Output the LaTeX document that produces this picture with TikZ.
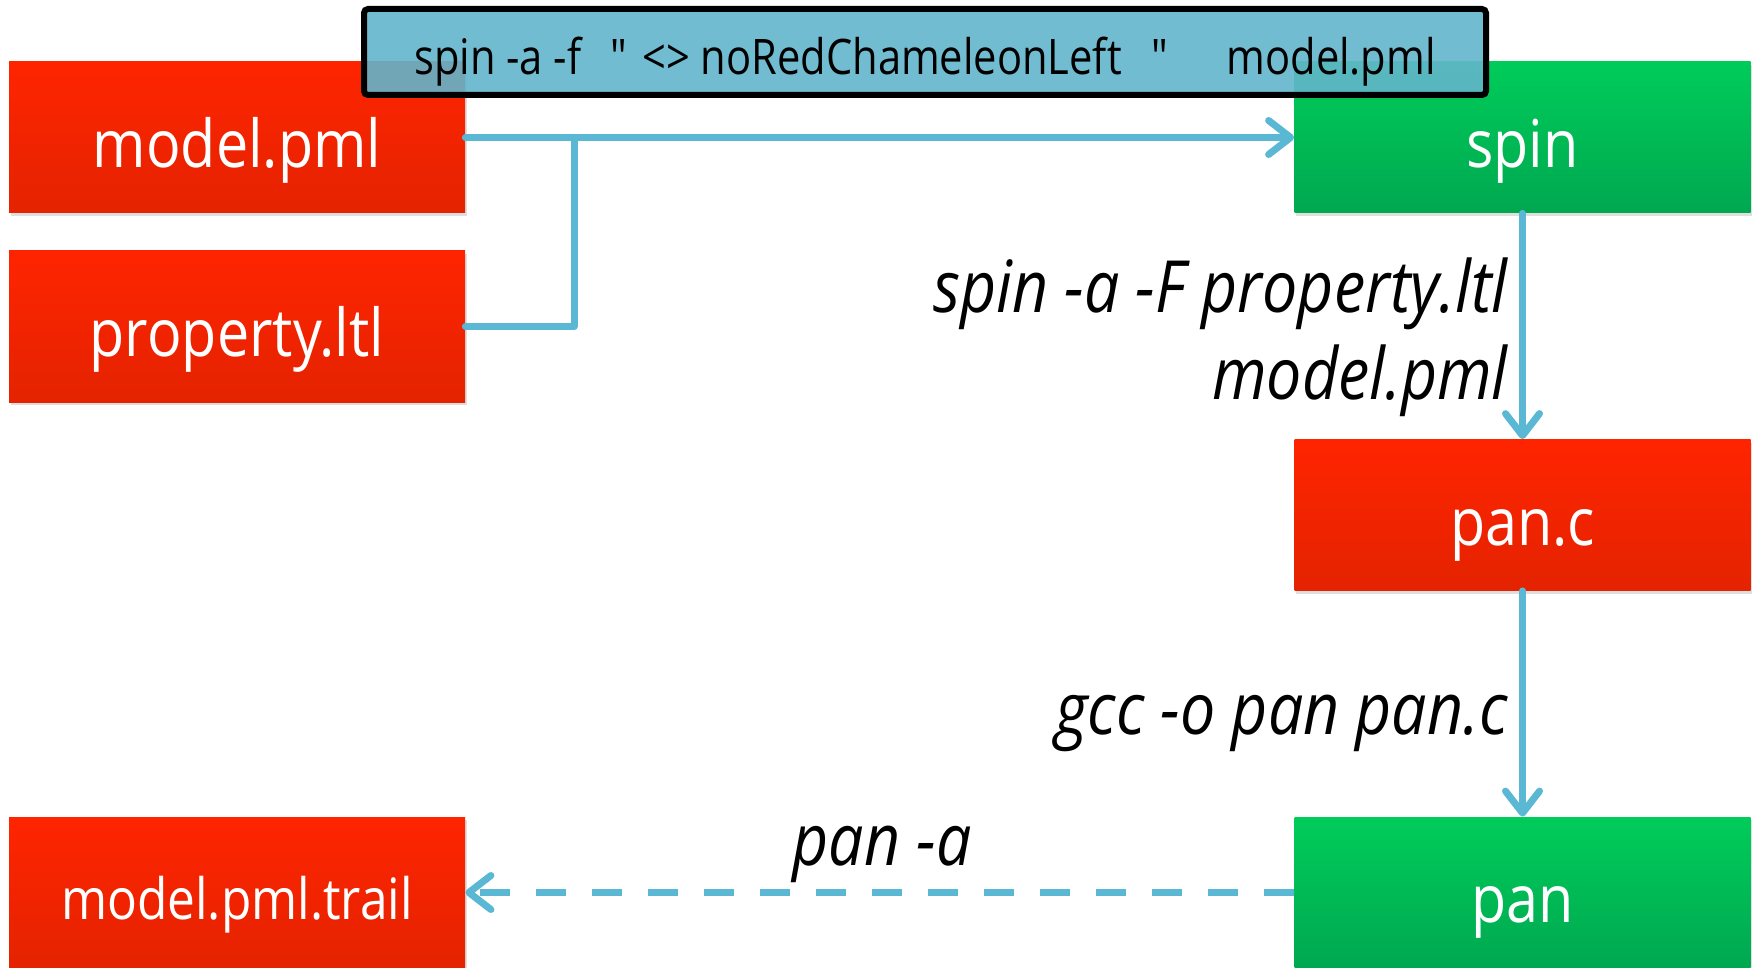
\documentclass[tikz,border=0pt]{standalone}
\usepackage{fontspec}
\setmainfont{Open Sans}[FakeStretch=0.87]
\newfontfamily\cmdfont{Open Sans}[FakeStretch=0.85,Ligatures=TeXOff]
\usetikzlibrary{arrows.meta,shadows}
\definecolor{linecol}{RGB}{91,184,212}
\definecolor{redtop}{RGB}{255,36,0}
\definecolor{redbot}{RGB}{228,35,0}
\definecolor{greentop}{RGB}{0,204,90}
\definecolor{greenbot}{RGB}{0,168,80}
\definecolor{cmdfill}{RGB}{98,181,203}
\tikzset{
  filebox/.style={minimum width=228pt, minimum height=75.5pt, inner sep=0pt,
    text height=30pt, text depth=0pt,
    text=white, font=\fontsize{33}{38}\selectfont, shading=axis,
    drop shadow={shadow xshift=0.8pt, shadow yshift=-1.5pt, opacity=0.25}},
  redbox/.style={filebox, top color=redtop, bottom color=redbot},
  greenbox/.style={filebox, top color=greentop, bottom color=greenbot},
  conn/.style={draw=linecol, line width=3.5pt, line cap=round, line join=round,
    -{Straight Barb[length=11pt,width=17pt,line cap=round,line join=round]}},
  plainconn/.style={draw=linecol, line width=3.5pt, line cap=round, line join=round},
  lbl/.style={font=\fontsize{36}{40}\selectfont\itshape, inner sep=0pt, anchor=base east},
}
\begin{document}
\begin{tikzpicture}[x=0.5pt,y=-0.5pt]
\useasboundingbox (0,0) rectangle (1755,968);
\node[redbox] (model) at (237,137.5) {model.pml};
\node[redbox] (prop) at (237,326.5) {property.ltl};
\node[greenbox] (spin) at (1522.5,137.5) {spin};
\node[redbox] (panc) at (1522.5,515) {pan.c};
\node[greenbox] (pan) at (1522.5,892.5) {pan};
\node[redbox, font=\fontsize{28.5}{32}\selectfont, text height=27pt] (trail) at (237,892.5) {model.pml.trail};
\coordinate (junc) at (574,137.5);
\draw[plainconn] (prop.east) -| (junc);
\draw[conn] (model.east) -- (spin.west);
\draw[conn] (spin.south) -- (panc.north);
\draw[conn] (panc.south) -- (pan.north);
\draw[conn, line cap=butt, dash pattern=on 15pt off 13pt] (pan.west) -- (trail.east);
\node[lbl] (l1) at (1508,313) {spin -a -F property.ltl};
\node[lbl] (l2) at (1508,399) {model.pml};
\node[lbl] (l3) at (1508,734) {gcc -o pan pan.c};
\node[lbl, anchor=base] (l4) at (882,865) {pan -a};
\node[draw=black, line width=3pt, rounded corners=2pt, fill=cmdfill, fill opacity=0.9,
  text opacity=1, minimum width=561pt, minimum height=43pt, inner sep=0pt,
  text height=23pt, text depth=0pt,
  font=\cmdfont\fontsize{24.5}{28}\selectfont] (cmd) at (925,52)
  {spin -a -f\hspace{0.6em}"\hspace{0.3em}<> noRedChameleonLeft\hspace{0.6em}"\hspace{1.2em}model.pml};
\end{tikzpicture}
\end{document}
